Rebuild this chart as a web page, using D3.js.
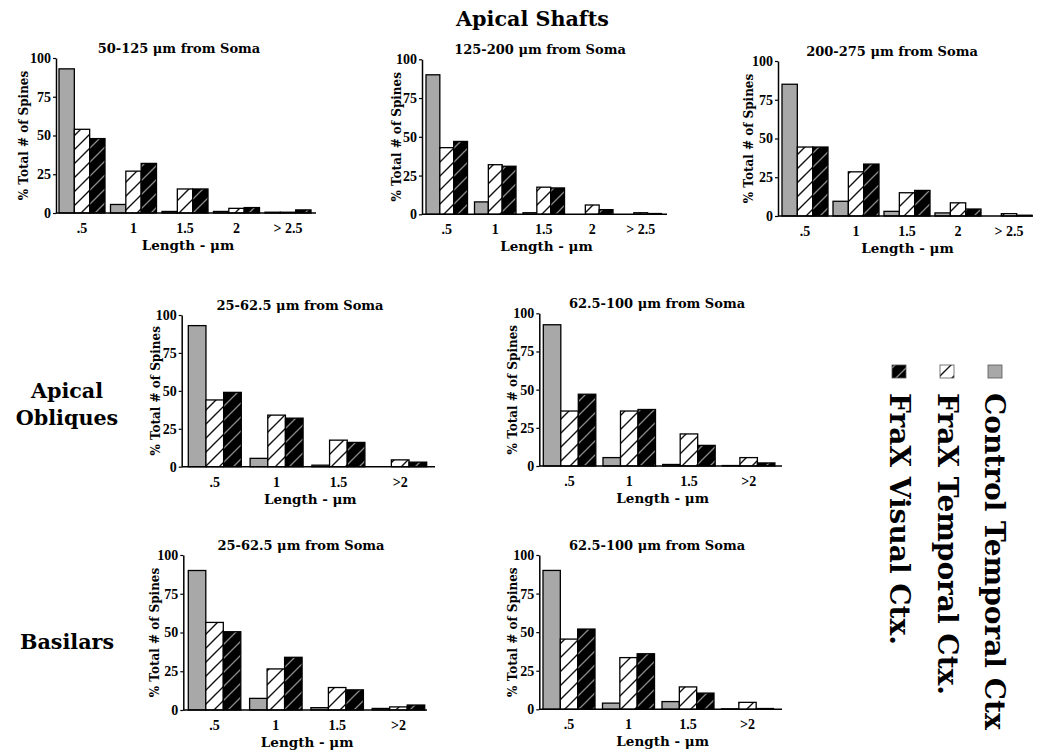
<!DOCTYPE html>
<html><head><meta charset="utf-8">
<script src="https://cdn.jsdelivr.net/npm/d3@7/dist/d3.min.js"></script>
<style>body{margin:0;background:#fff}svg{display:block}</style>
</head><body>
<svg id="chart" width="1038" height="752"></svg>
<script>
// ---------- DATA ----------
const seriesNames = ["Control Temporal Ctx", "FraX Temporal Ctx.", "FraX Visual Ctx."];
const shaftCategories = [".5", "1", "1.5", "2", "> 2.5"];
const branchCategories = [".5", "1", "1.5", ">2"];
const yTickValues = [0, 25, 50, 75, 100];

// Apical shafts 50-125 µm
const shaftA_control      = [93, 5.5, 1, 1, 0.5];
const shaftA_fraxTemporal = [54, 27, 15.5, 3, 0.5];
const shaftA_fraxVisual   = [48, 32, 15.5, 3.5, 2];
// Apical shafts 125-200 µm
const shaftB_control      = [90, 8, 1, 0, 0];
const shaftB_fraxTemporal = [43, 32, 17.5, 6, 1];
const shaftB_fraxVisual   = [47, 31, 17, 3, 0.5];
// Apical shafts 200-275 µm
const shaftC_control      = [85, 9.5, 3, 2, 0];
const shaftC_fraxTemporal = [44.5, 28.5, 15, 8.5, 1.5];
const shaftC_fraxVisual   = [44.5, 33.5, 16.5, 4.5, 0.5];
// Apical obliques 25-62.5 µm
const obliqueA_control      = [93, 5.5, 1, 0];
const obliqueA_fraxTemporal = [44, 34, 17.5, 4.5];
const obliqueA_fraxVisual   = [49, 32, 16, 3];
// Apical obliques 62.5-100 µm
const obliqueB_control      = [92.5, 5.5, 1, 0.3];
const obliqueB_fraxTemporal = [36, 36, 21, 5.5];
const obliqueB_fraxVisual   = [47, 37, 13.5, 2];
// Basilars 25-62.5 µm
const basilarA_control      = [90, 7.5, 1.5, 1];
const basilarA_fraxTemporal = [56.5, 26.5, 14.5, 2];
const basilarA_fraxVisual   = [50.5, 34, 13, 3.2];
// Basilars 62.5-100 µm
const basilarB_control      = [90, 4, 5, 0.3];
const basilarB_fraxTemporal = [45.5, 33.5, 14.5, 4.5];
const basilarB_fraxVisual   = [52, 36, 10.5, 0.5];

// ---------- LAYOUT ----------
const panels = [
  {title: "50-125 \u03bcm from Soma", cats: shaftCategories, series: [shaftA_control, shaftA_fraxTemporal, shaftA_fraxVisual],
   axisX: 56, y0: 213, y100: 58, xStart: 59, step: 51.5, bw: 46, xEnd: 316, yLabOff: 28, titleX: 179},
  {title: "125-200 \u03bcm from Soma", cats: shaftCategories, series: [shaftB_control, shaftB_fraxTemporal, shaftB_fraxVisual],
   axisX: 422, y0: 214.3, y100: 59.3, xStart: 426, step: 48.5, bw: 41.5, xEnd: 667, yLabOff: 21, titleX: 540},
  {title: "200-275 \u03bcm from Soma", cats: shaftCategories, series: [shaftC_control, shaftC_fraxTemporal, shaftC_fraxVisual],
   axisX: 778, y0: 216, y100: 61, xStart: 782, step: 51, bw: 46, xEnd: 1033, yLabOff: 25, titleX: 892},
  {title: "25-62.5 \u03bcm from Soma", cats: branchCategories, series: [obliqueA_control, obliqueA_fraxTemporal, obliqueA_fraxVisual],
   axisX: 181.7, y0: 466.7, y100: 315, xStart: 188.3, step: 61.8, bw: 53, xEnd: 435, yLabOff: 22, titleX: 300},
  {title: "62.5-100 \u03bcm from Soma", cats: branchCategories, series: [obliqueB_control, obliqueB_fraxTemporal, obliqueB_fraxVisual],
   axisX: 539.3, y0: 466, y100: 313.3, xStart: 543.3, step: 59.7, bw: 52.5, xEnd: 782, yLabOff: 22, titleX: 657},
  {title: "25-62.5 \u03bcm from Soma", cats: branchCategories, series: [basilarA_control, basilarA_fraxTemporal, basilarA_fraxVisual],
   axisX: 183.3, y0: 710, y100: 555, xStart: 188.3, step: 61.3, bw: 52.5, xEnd: 427, yLabOff: 24, titleX: 301},
  {title: "62.5-100 \u03bcm from Soma", cats: branchCategories, series: [basilarB_control, basilarB_fraxTemporal, basilarB_fraxVisual],
   axisX: 539.3, y0: 709.3, y100: 555, xStart: 543, step: 59.5, bw: 52, xEnd: 782, yLabOff: 22, titleX: 657}
];

const serif = "'DejaVu Serif', serif";
const numFont = "'Liberation Serif', 'Times New Roman', serif";

const svg = d3.select("#chart");
const defs = svg.append("defs");
function hatch(id, bg, line, s, sw) {
  const p = defs.append("pattern").attr("id", id).attr("patternUnits", "userSpaceOnUse")
    .attr("width", s).attr("height", s);
  p.append("rect").attr("width", s).attr("height", s).attr("fill", bg);
  p.append("path")
    .attr("d", `M0,${s} L${s},0 M${-2},${2} L${2},${-2} M${s - 2},${s + 2} L${s + 2},${s - 2}`)
    .attr("stroke", line).attr("stroke-width", sw).attr("fill", "none");
}
hatch("hatchWhite", "#fff", "#111", 14, 1.4);
hatch("hatchBlack", "#000", "#8a8a8a", 14, 1.3);
const fills = ["#a8a8a8", "url(#hatchWhite)", "url(#hatchBlack)"];

function drawPanel(p) {
  const g = svg.append("g");
  const y = d3.scaleLinear().domain([0, 100]).range([p.y0, p.y100]);
  const n = p.cats.length;
  const x = d3.scaleBand().domain(p.cats)
    .range([p.xStart, p.xStart + (n - 1) * p.step + p.bw])
    .paddingInner(1 - p.bw / p.step).paddingOuter(0);
  const xs = d3.scaleBand().domain(d3.range(p.series.length)).range([0, x.bandwidth()]);

  p.series.forEach((vals, si) => {
    g.append("g").selectAll("rect").data(vals).join("rect")
      .attr("x", (d, i) => x(p.cats[i]) + xs(si))
      .attr("y", d => y(d))
      .attr("width", xs.bandwidth())
      .attr("height", d => y(0) - y(d))
      .attr("fill", fills[si])
      .attr("stroke", "#000").attr("stroke-width", 1.3);
  });

  // x axis line
  g.append("line").attr("x1", p.axisX).attr("x2", p.xEnd).attr("y1", y(0)).attr("y2", y(0))
    .attr("stroke", "#000").attr("stroke-width", 1.5);

  // y axis
  const ya = g.append("g").attr("transform", `translate(${p.axisX},0)`)
    .call(d3.axisLeft(y).tickValues(yTickValues).tickSize(3).tickSizeOuter(0).tickPadding(2));
  ya.select(".domain").attr("stroke", "#000").attr("stroke-width", 1.5);
  ya.selectAll(".tick line").attr("stroke", "#000").attr("stroke-width", 1.2);
  ya.selectAll("text").attr("font-family", numFont).attr("font-weight", "bold")
    .attr("font-size", 14).attr("fill", "#000");

  // x tick labels
  const xa = g.append("g").attr("transform", `translate(0,${y(0)})`)
    .call(d3.axisBottom(x).tickSize(0).tickPadding(10));
  xa.select(".domain").remove();
  xa.selectAll("text").attr("font-family", numFont).attr("font-weight", "bold")
    .attr("font-size", 14).attr("fill", "#000");

  // title
  g.append("text").attr("x", p.titleX).attr("y", p.y100 - 5).attr("text-anchor", "middle")
    .attr("font-family", serif).attr("font-weight", "bold").attr("font-size", 13).text(p.title);
  // x label
  g.append("text").attr("x", (p.axisX + p.xEnd) / 2 + 2).attr("y", p.y0 + 37).attr("text-anchor", "middle")
    .attr("font-family", serif).attr("font-weight", "bold").attr("font-size", 13.5).text("Length - \u03bcm");
  // y label
  g.append("text")
    .attr("transform", `translate(${p.axisX - p.yLabOff},${(p.y0 + p.y100) / 2}) rotate(-90)`)
    .attr("text-anchor", "middle")
    .attr("font-family", serif).attr("font-weight", "bold").attr("font-size", 12).text("% Total # of Spines");
}
panels.forEach(drawPanel);

// headings
svg.append("text").attr("x", 532.5).attr("y", 26).attr("text-anchor", "middle")
  .attr("font-family", serif).attr("font-weight", "bold").attr("font-size", 20.7).text("Apical Shafts");
const rowLabels = [["Apical", 398], ["Obliques", 425], ["Basilars", 649]];
svg.selectAll(".rowlab").data(rowLabels).join("text").attr("class", "rowlab")
  .attr("x", 67).attr("y", d => d[1]).attr("text-anchor", "middle")
  .attr("font-family", serif).attr("font-weight", "bold").attr("font-size", 20.7).text(d => d[0]);

// legend (rotated)
const legendSquareX = [988, 940, 892];
const legendTextX = [985, 938, 890];
const lg = svg.append("g");
seriesNames.forEach((name, i) => {
  lg.append("rect").attr("x", legendSquareX[i]).attr("y", 365).attr("width", 14).attr("height", 13)
    .attr("fill", fills[i]).attr("stroke", "#555").attr("stroke-width", 0.8);
  lg.append("text").attr("transform", `translate(${legendTextX[i]},393) rotate(90)`)
    .attr("font-family", serif).attr("font-weight", "bold").attr("font-size", 28).text(name);
});
</script>
</body></html>
